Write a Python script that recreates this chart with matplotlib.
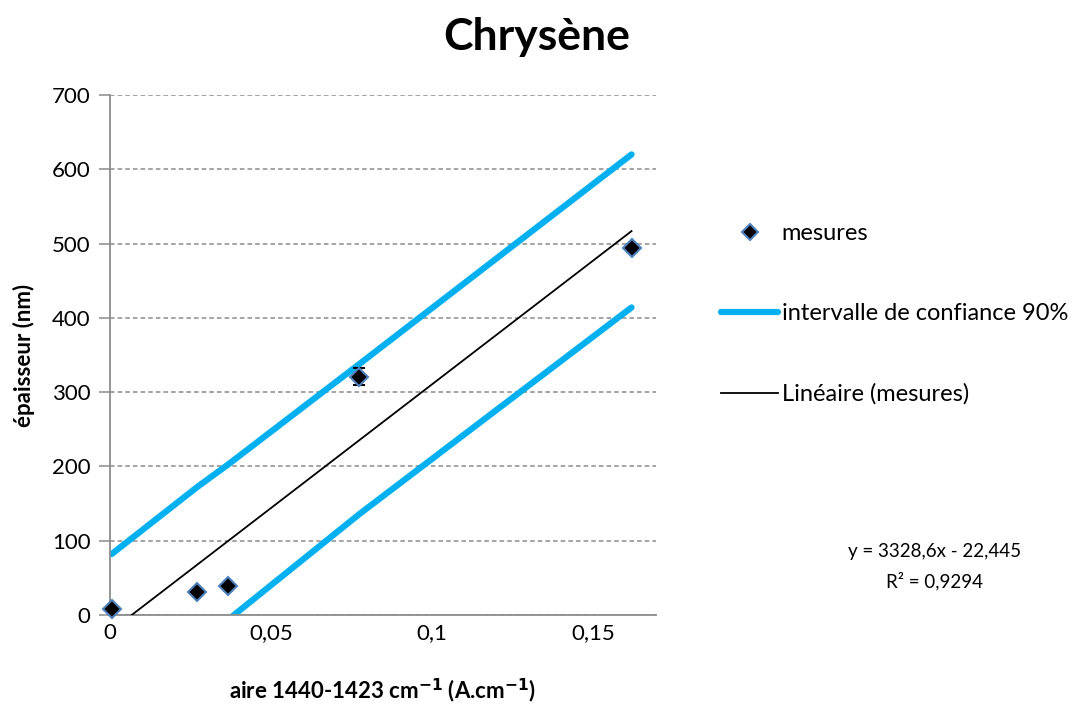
import matplotlib
matplotlib.use("Agg")
import matplotlib.pyplot as plt
from matplotlib.lines import Line2D
import numpy as np

plt.rcParams['font.family'] = ['Lato', 'DejaVu Sans']

# Data
x_meas = [0.0005, 0.027, 0.0365, 0.0775, 0.162]
y_meas = [8, 31, 39, 321, 494]
y_err = [0, 0, 0, 11, 6]
ci_upper = [82, 172, 202, 338, 620]
ci_lower = [-126, -38, -7, 136, 414]
fit_slope = 3328.6
fit_intercept = -22.445
x_ticks = [0, 0.05, 0.1, 0.15]
x_tick_labels = ['0', '0,05', '0,1', '0,15']
y_ticks = [0, 100, 200, 300, 400, 500, 600, 700]

fig = plt.figure(figsize=(10.86, 7.04), dpi=100)
ax = fig.add_axes([110/1086, 1-615/704, (656-110)/1086, (615-95)/704])

blue = '#00B0F0'
ax.plot(x_meas, ci_upper, color=blue, lw=4.5, solid_capstyle='round', zorder=2)
ax.plot(x_meas, ci_lower, color=blue, lw=4.5, solid_capstyle='round', zorder=2)

x0 = -fit_intercept / fit_slope
xf = np.array([x0, x_meas[-1]])
ax.plot(xf, fit_slope * xf + fit_intercept, color='black', lw=1.3, zorder=3)

ax.errorbar(x_meas, y_meas, yerr=y_err, fmt='none', ecolor='black', elinewidth=1.2,
            capsize=4, capthick=1.5, zorder=4)
ax.plot(x_meas, y_meas, linestyle='none', marker='D', markersize=9,
        markerfacecolor='black', markeredgecolor='#4F81BD', markeredgewidth=1.5,
        zorder=5, clip_on=False)

ax.set_xlim(0, 0.1696)
ax.set_ylim(0, 700)
ax.set_xticks(x_ticks)
ax.set_xticklabels(x_tick_labels)
ax.set_yticks(y_ticks)
ax.yaxis.grid(True, linestyle=(0, (3, 2)), color='#8C8C8C', lw=1.1)
ax.set_axisbelow(True)
for s in ['top', 'right']:
    ax.spines[s].set_visible(False)
for s in ['left', 'bottom']:
    ax.spines[s].set_color('#8C8C8C')
    ax.spines[s].set_linewidth(1.3)
ax.tick_params(axis='y', length=8, color='#8C8C8C', width=1.1, labelsize=16, pad=6)
ax.tick_params(axis='x', length=0, labelsize=16, pad=6)

ax.set_xlabel('aire 1440-1423 cm$^{\\mathbf{-1}}$ (A.cm$^{\\mathbf{-1}}$)', fontsize=16,
              fontweight='bold', labelpad=24)
ax.set_ylabel('épaisseur (nm)', fontsize=16, fontweight='bold', labelpad=12)

fig.text(537/1086, 1-37/704, 'Chrysène', ha='center', va='center', fontsize=32,
         fontweight='bold')

handles = [
    Line2D([], [], linestyle='none', marker='D', markersize=8, markerfacecolor='black',
           markeredgecolor='#4F81BD', markeredgewidth=1.5),
    Line2D([], [], color=blue, lw=4.5, solid_capstyle='round'),
    Line2D([], [], color='black', lw=1.3),
]
labels = ['mesures', 'intervalle de confiance 90%', 'Linéaire (mesures)']
leg = fig.legend(handles, labels, loc='upper left', bbox_to_anchor=(712/1086, 1-214/704),
                 frameon=False, fontsize=17, labelspacing=2.5, handlelength=2.4,
                 handletextpad=0.15, borderaxespad=0)

fig.text(935/1086, 1-551/704, 'y = 3328,6x - 22,445', ha='center', va='center', fontsize=13.5)
fig.text(935/1086, 1-581/704, 'R² = 0,9294', ha='center', va='center', fontsize=13.5)

fig.savefig('out.png', dpi=100)
